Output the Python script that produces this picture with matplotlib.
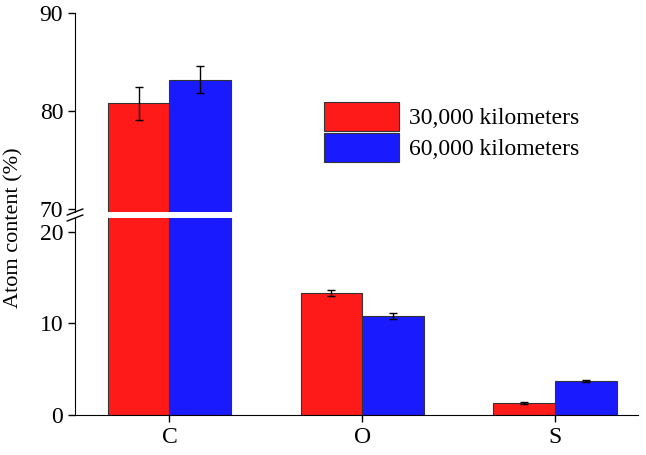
import matplotlib.pyplot as plt
import numpy as np

plt.rcParams["font.family"] = "Liberation Serif"
plt.rcParams["font.size"] = 16

elements = ["C", "O", "S"]
labels = ["30,000 kilometers", "60,000 kilometers"]
vals_30k = [80.8, 13.3, 1.3]
err_30k = [1.7, 0.3, 0.1]
vals_60k = [83.2, 10.8, 3.7]
err_60k = [1.4, 0.3, 0.15]
colors = ["#ff1a1a", "#1a1aff"]

W, H = 646, 455
fig = plt.figure(figsize=(W / 100, H / 100), dpi=100)
left, right = 75 / W, 638 / W
ax_top = fig.add_axes([left, 1 - 212 / H, right - left, (212 - 13) / H])
ax_bot = fig.add_axes([left, 1 - 415 / H, right - left, (415 - 218) / H])

x = np.arange(len(elements))
w = 0.32
for ax in (ax_top, ax_bot):
    for i, (v, e, c, lab) in enumerate(zip([vals_30k, vals_60k], [err_30k, err_60k], colors, labels)):
        ax.bar(x + (i - 0.5) * w, v, w, yerr=e, color=c, edgecolor="#333333", linewidth=0.8,
               label=lab, error_kw=dict(ecolor="black", elinewidth=1, capsize=3))
    ax.set_xlim(-0.49, 2.43)
    for s in ("top", "right"):
        ax.spines[s].set_visible(False)
    ax.tick_params(direction="out", length=5, width=1, labelsize=17)

ax_top.set_ylim(69.7, 90)
ax_top.set_yticks([70, 80, 90])
ax_top.spines["bottom"].set_visible(False)
ax_top.set_xticks([])

ax_bot.set_ylim(0, 21.5)
ax_bot.set_yticks([0, 10, 20])
ax_bot.set_xticks(x)
ax_bot.set_xticklabels(elements)

# break marks
kw = dict(transform=fig.transFigure, color="black", lw=1, clip_on=False)
for yy in (212, 218):
    fig.add_artist(plt.Line2D([left - 0.012, left + 0.012], [1 - (yy + 3) / H, 1 - (yy - 3) / H], **kw))

fig.text(0.022, 0.5, "Atom content (%)", rotation=90, va="center", ha="center", fontsize=16)
ax_top.legend(loc="upper left", bbox_to_anchor=(0.425, 0.6), frameon=False,
              handlelength=3.2, handleheight=1.5, handletextpad=0.4,
              borderaxespad=0, labelspacing=0.1, fontsize=17)

fig.savefig("out.png", dpi=100)
